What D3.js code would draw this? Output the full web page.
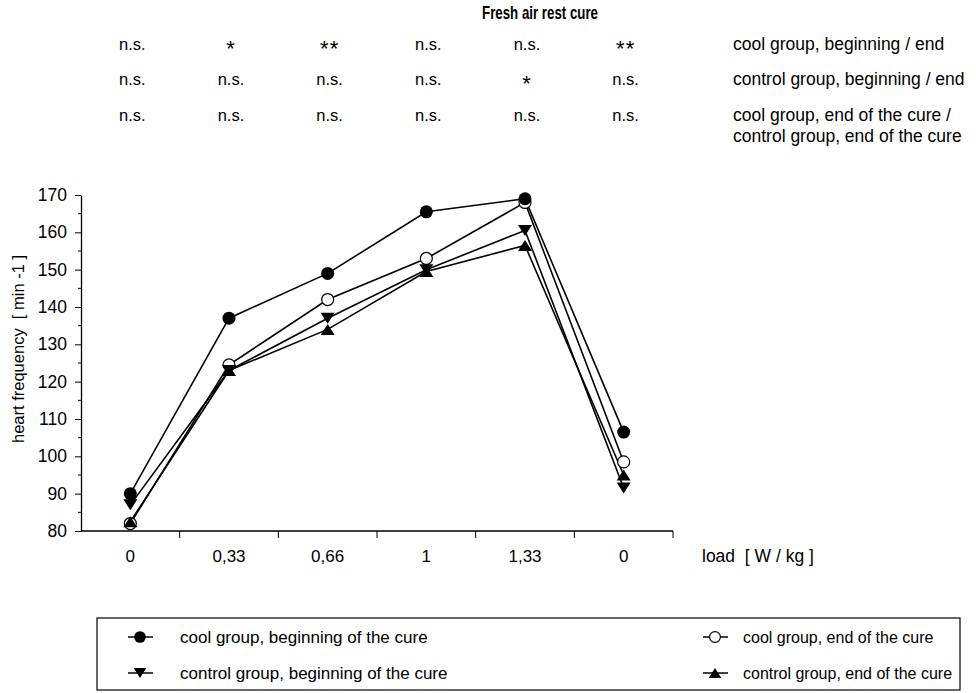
<!DOCTYPE html>
<html>
<head>
<meta charset="utf-8">
<script src="https://cdn.jsdelivr.net/npm/d3@7"></script>
<style>
  body { margin: 0; background: #fff; }
  svg { display: block; font-family: "Liberation Sans", Arial, sans-serif; }
  .pre { white-space: pre; }
</style>
</head>
<body>
<svg id="chart" width="976" height="693"></svg>
<script>
// Load steps (W/kg); last step is the recovery phase back at 0
const loadLabels = ["0", "0,33", "0,66", "1", "1,33", "0"];

// Heart frequency [min^-1] per load step
const coolBegin    = [90, 137, 149, 165.5, 169, 106.5];
const coolEnd      = [82, 124.5, 142, 153, 168, 98.5];
const controlBegin = [87, 123, 137, 150, 160.5, 91.5];
const controlEnd   = [82.5, 123, 134, 149.5, 156.5, 95];

// Significance rows shown above the plot
const sigCoolBeginEnd    = ["n.s.", "*", "**", "n.s.", "n.s.", "**"];
const sigControlBeginEnd = ["n.s.", "n.s.", "n.s.", "n.s.", "*", "n.s."];
const sigEndVsEnd        = ["n.s.", "n.s.", "n.s.", "n.s.", "n.s.", "n.s."];
const sigRowLabels = [
  ["cool group, beginning / end"],
  ["control group, beginning / end"],
  ["cool group, end of the cure /", "control group, end of the cure"]
];

const yTicks = [80, 90, 100, 110, 120, 130, 140, 150, 160, 170];

const series = [
  { name: "cool group, beginning of the cure", values: coolBegin, symbol: "dot" },
  { name: "cool group, end of the cure", values: coolEnd, symbol: "ring" },
  { name: "control group, beginning of the cure", values: controlBegin, symbol: "down" },
  { name: "control group, end of the cure", values: controlEnd, symbol: "up" }
];

const svg = d3.select("#chart");

const x = d3.scaleBand().domain(d3.range(loadLabels.length)).range([81, 673]);
const y = d3.scaleLinear().domain([80, 170]).range([531, 195]);
const cx = i => x(i) + x.bandwidth() / 2;

// Title in a condensed bold face
svg.append("text")
  .attr("transform", "translate(540,19) scale(0.76,1)")
  .attr("text-anchor", "middle")
  .attr("font-size", 17.5).attr("font-weight", "bold")
  .text("Fresh air rest cure");

// Significance table
const sigRows = [sigCoolBeginEnd, sigControlBeginEnd, sigEndVsEnd];
const rowY = [50, 85, 121];
sigRows.forEach((row, r) => {
  svg.append("g").selectAll("text").data(row).join("text")
    .attr("x", (d, i) => cx(i) + 2)
    .attr("y", d => d.startsWith("*") ? rowY[r] + 6 : rowY[r])
    .attr("text-anchor", "middle")
    .attr("font-size", d => d.startsWith("*") ? 22 : 16.5)
    .attr("letter-spacing", d => d.startsWith("*") ? 1 : 0)
    .text(d => d);
  svg.append("g").selectAll("text").data(sigRowLabels[r]).join("text")
    .attr("x", 733)
    .attr("y", (d, i) => rowY[r] + i * 21)
    .attr("font-size", 17.5)
    .text(d => d);
});

// Y axis with minor ticks
const yAxis = svg.append("g").attr("transform", "translate(81,0)");
yAxis.call(d3.axisLeft(y).tickValues(yTicks).tickSize(6).tickPadding(8).tickSizeOuter(0))
  .call(g => g.selectAll("text").attr("font-size", 17.5).attr("fill", "#000").attr("font-family", "Liberation Sans, Arial, sans-serif"))
  .call(g => g.select(".domain").attr("stroke", "#000").attr("stroke-width", 1.3));
yAxis.selectAll(".minor").data(d3.range(85, 170, 10)).join("line")
  .attr("x1", -3).attr("x2", 0)
  .attr("y1", d => y(d)).attr("y2", d => y(d))
  .attr("stroke", "#000");

// X axis: band boundaries as ticks, labels at band centres
const xAxis = svg.append("g").attr("transform", "translate(0,531)");
xAxis.append("line").attr("x1", 81).attr("x2", 673).attr("stroke", "#000").attr("stroke-width", 1.3);
xAxis.selectAll("line.tk").data(d3.range(1, loadLabels.length + 1)).join("line")
  .attr("class", "tk")
  .attr("x1", i => x.range()[0] + i * x.bandwidth())
  .attr("x2", i => x.range()[0] + i * x.bandwidth())
  .attr("y1", 0).attr("y2", 7)
  .attr("stroke", "#000");
xAxis.selectAll("text").data(loadLabels).join("text")
  .attr("x", (d, i) => cx(i))
  .attr("y", 31)
  .attr("text-anchor", "middle")
  .attr("font-size", 17)
  .text(d => d);

svg.append("text").attr("class", "pre").attr("x", 702).attr("y", 562).attr("font-size", 17.5)
  .text("load  [ W / kg ]");

svg.append("text").attr("class", "pre")
  .attr("transform", "translate(24,349) rotate(-90)")
  .attr("text-anchor", "middle")
  .attr("font-size", 16.5)
  .text("heart frequency  [ min -1 ]");

// Marker drawing
function drawSymbol(g, type, px, py, s) {
  if (type === "dot") {
    g.append("circle").attr("cx", px).attr("cy", py).attr("r", 6.5 * s).attr("fill", "#000");
  } else if (type === "ring") {
    g.append("circle").attr("cx", px).attr("cy", py).attr("r", 6 * s)
      .attr("fill", "#fff").attr("stroke", "#000").attr("stroke-width", 1.2);
  } else {
    const w = 7 * s, h = 11 * s;
    const pts = type === "down"
      ? [[px - w, py - h / 2], [px + w, py - h / 2], [px, py + h / 2]]
      : [[px - w, py + h / 2], [px + w, py + h / 2], [px, py - h / 2]];
    g.append("path").attr("d", d3.line()(pts) + "Z").attr("fill", "#000");
  }
}

const line = d3.line().x((d, i) => cx(i)).y(d => y(d));
const plot = svg.append("g");
series.forEach(s => {
  plot.append("path").datum(s.values)
    .attr("d", line)
    .attr("fill", "none").attr("stroke", "#000").attr("stroke-width", 1.6);
});
[1, 3, 2, 0].forEach(k => {
  const s = series[k];
  s.values.forEach((v, i) => drawSymbol(plot, s.symbol, cx(i), y(v), 1));
});

// Legend: two columns, left text offset wider than right
const lg = svg.append("g");
lg.append("rect").attr("x", 97).attr("y", 618).attr("width", 863).attr("height", 72)
  .attr("fill", "none").attr("stroke", "#000").attr("stroke-width", 1.2);
const legendPos = [[140, 637, 40, 17], [715, 637, 28, 16], [140, 673, 40, 17], [715, 673, 28, 16]];
series.forEach((s, k) => {
  const [lx, ly, off, fs] = legendPos[k];
  lg.append("line").attr("x1", lx - 12).attr("x2", lx + 13)
    .attr("y1", ly).attr("y2", ly).attr("stroke", "#000").attr("stroke-width", 1.5);
  drawSymbol(lg, s.symbol, lx, ly, 0.9);
  lg.append("text").attr("x", lx + off).attr("y", ly + 6).attr("font-size", fs).text(s.name);
});
</script>
</body>
</html>
